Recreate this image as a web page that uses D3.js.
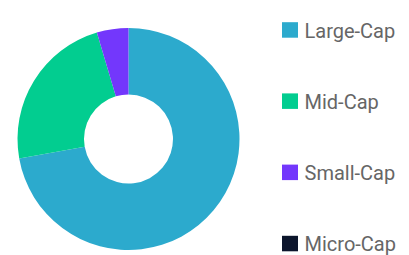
<!DOCTYPE html>
<html>
<head>
<meta charset="utf-8">
<script src="https://cdn.jsdelivr.net/npm/d3@7"></script>
<style>
  body { margin: 0; background: #fff; }
  svg { display: block; }
</style>
</head>
<body>
<div id="chart"></div>
<script>
var categories = ["Large-Cap", "Mid-Cap", "Small-Cap", "Micro-Cap"];
var values = [72.2, 23.2, 4.6, 0];
var colors = ["#2caacd", "#02cd90", "#7337fc", "#0c152c"];

var width = 409, height = 255;
var cx = 128.5, cy = 139;
var outerR = 111, innerR = 44.5;

var svg = d3.select("#chart").append("svg")
  .attr("width", width)
  .attr("height", height);

var color = d3.scaleOrdinal()
  .domain(categories)
  .range(colors);

var pie = d3.pie()
  .sort(null)
  .value(function (d) { return d.value; });

var arc = d3.arc()
  .innerRadius(innerR)
  .outerRadius(outerR);

var data = categories.map(function (c, i) {
  return { name: c, value: values[i] };
});

var g = svg.append("g")
  .attr("transform", "translate(" + cx + "," + cy + ")");

g.selectAll("path")
  .data(pie(data))
  .enter().append("path")
  .attr("d", arc)
  .attr("fill", function (d) { return color(d.data.name); });

// legend
var legendY = d3.scalePoint()
  .domain(categories)
  .range([37.7, 251.3]);

var legend = svg.append("g")
  .selectAll("g")
  .data(categories)
  .enter().append("g")
  .attr("transform", function (d) { return "translate(282," + legendY(d) + ")"; });

legend.append("rect")
  .attr("x", 0)
  .attr("y", -15.5)
  .attr("width", 16)
  .attr("height", 15.5)
  .attr("fill", function (d) { return color(d); });

legend.append("text")
  .attr("x", 22.5)
  .attr("y", 0)
  .attr("font-family", "Roboto, sans-serif")
  .attr("font-size", 20)
  .attr("fill", "#666")
  .text(function (d) { return d; });
</script>
</body>
</html>
